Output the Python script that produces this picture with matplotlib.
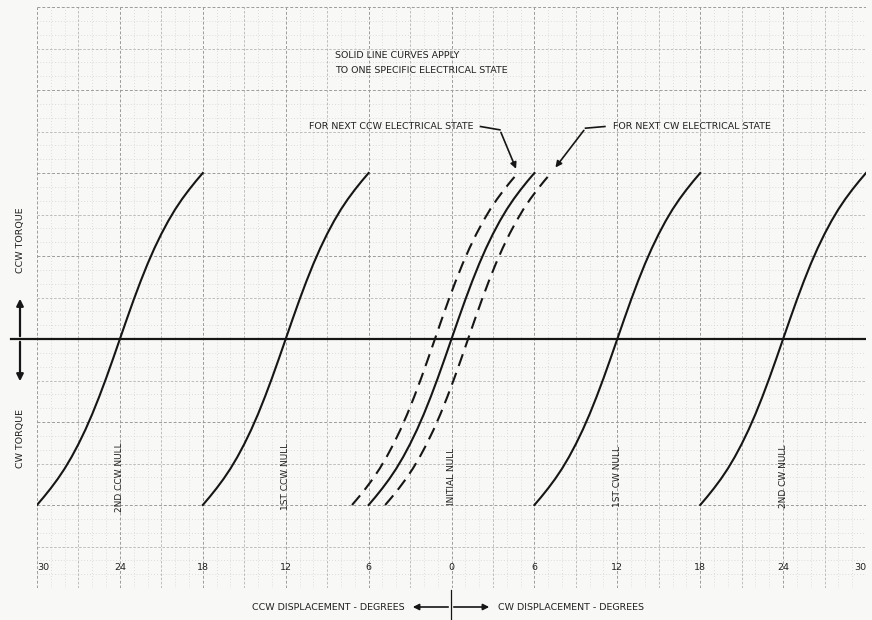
import numpy as np
import matplotlib
matplotlib.use('Agg')
import matplotlib.pyplot as plt

# 零点位置 (度) 和标签
null_pos = [-24, -12, 0, 12, 24]
null_labels = ['2ND CCW NULL', '1ST CCW NULL', 'INITIAL NULL', '1ST CW NULL', '2ND CW NULL']

# 单条曲线的形状 (相对零点的偏移, 力矩)
shape_offset = [-6, -5.5, -5, -4.5, -4, -3.5, -3, -2.5, -2, -1.5, -1, -0.5, 0,
                0.5, 1, 1.5, 2, 2.5, 3, 3.5, 4, 4.5, 5, 5.5, 6]
shape_torque = [-1.0, -0.951, -0.899, -0.843, -0.781, -0.711, -0.633, -0.547, -0.452, -0.348, -0.237, -0.12, 0.0,
                0.12, 0.237, 0.348, 0.452, 0.547, 0.633, 0.711, 0.781, 0.843, 0.899, 0.951, 1.0]

# 相邻电状态的零点 (虚线)
next_ccw_null = -1.2
next_cw_null = 1.2

tick_values = [-30, -24, -18, -12, -6, 0, 6, 12, 18, 24, 30]
tick_labels = ['30', '24', '18', '12', '6', '0', '6', '12', '18', '24', '30']

bg = '#f8f8f6'
ink = '#161616'
txt = '#222222'
fs = 6.8

fig = plt.figure(figsize=(8.72, 6.2), dpi=100, facecolor=bg)
ax = fig.add_axes([37 / 872, 1 - 588 / 620, 829 / 872, 581 / 620])
ax.set_facecolor(bg)
ax.set_xlim(-30, 30)
ax.set_ylim(-1.5, 2.0)
for s in ax.spines.values():
    s.set_visible(False)
ax.set_xticks([])
ax.set_yticks([])

# 坐标纸网格
for x in np.arange(-30, 30.01, 1):
    if x % 6 == 0:
        ax.axvline(x, color='#9c9c9c', lw=0.7, ls=(0, (3, 2)), zorder=1)
    elif x % 3 == 0:
        ax.axvline(x, color='#b4b4b4', lw=0.6, ls=(0, (3, 2)), zorder=1)
    else:
        ax.axvline(x, color='#d4d4d4', lw=0.6, ls=(0, (1, 2.5)), zorder=0)
for k in range(0, 43):
    y = -1.5 + k / 12
    if k % 6 == 0:
        ax.axhline(y, color='#9c9c9c', lw=0.7, ls=(0, (3, 2)), zorder=1)
    elif k % 3 == 0:
        ax.axhline(y, color='#b4b4b4', lw=0.6, ls=(0, (3, 2)), zorder=1)
    else:
        ax.axhline(y, color='#d4d4d4', lw=0.6, ls=(0, (1, 2.5)), zorder=0)

# 零力矩线
ax.axhline(0, color=ink, lw=1.6, zorder=3)

off = np.array(shape_offset)
tq = np.array(shape_torque)

# 实线曲线
for c in null_pos:
    ax.plot(c + off, tq, color=ink, lw=1.5, zorder=4)

# 虚线曲线
for c in [next_ccw_null, next_cw_null]:
    ax.plot(c + off, tq, color=ink, lw=1.5, ls=(0, (6, 3.5)), zorder=4)

# 零点标签
for c, lab in zip(null_pos, null_labels):
    ax.text(c, -0.83, lab, rotation=90, ha='center', va='center', fontsize=6.5, color=txt, zorder=5)

# x 轴刻度文字
for v, lab in zip(tick_values, tick_labels):
    ha = 'center'
    if v == -30:
        ha = 'left'
    elif v == 30:
        ha = 'right'
    ax.text(v, -1.375, lab, ha=ha, va='center', fontsize=fs, color=txt, zorder=5)

# 说明文字
ax.text(-8.4, 1.71, 'SOLID LINE CURVES APPLY', ha='left', va='center', fontsize=fs, color=txt)
ax.text(-8.4, 1.62, 'TO ONE SPECIFIC ELECTRICAL STATE', ha='left', va='center', fontsize=fs, color=txt)

ax.text(1.6, 1.278, 'FOR NEXT CCW ELECTRICAL STATE', ha='right', va='center', fontsize=fs, color=txt)
ax.text(11.7, 1.278, 'FOR NEXT CW ELECTRICAL STATE', ha='left', va='center', fontsize=fs, color=txt)

# 指引线
ccw_tip = (next_ccw_null + shape_offset[-1], shape_torque[-1])
cw_tip = (next_cw_null + shape_offset[-1], shape_torque[-1])
ax.plot([2.1, 3.5], [1.28, 1.26], color=ink, lw=1.2, zorder=5)
ax.annotate('', xy=(ccw_tip[0] - 0.05, ccw_tip[1] + 0.01), xytext=(3.5, 1.26),
            arrowprops=dict(arrowstyle='-|>', color=ink, lw=1.2, mutation_scale=9), zorder=5)
ax.plot([11.1, 9.7], [1.28, 1.27], color=ink, lw=1.2, zorder=5)
ax.annotate('', xy=(cw_tip[0] + 0.2, cw_tip[1] + 0.02), xytext=(9.7, 1.27),
            arrowprops=dict(arrowstyle='-|>', color=ink, lw=1.2, mutation_scale=9), zorder=5)

# 左侧力矩方向
fig.text(20 / 872, 1 - 240 / 620, 'CCW TORQUE', rotation=90, ha='center', va='center', fontsize=fs, color=txt)
fig.text(20 / 872, 1 - 438 / 620, 'CW TORQUE', rotation=90, ha='center', va='center', fontsize=fs, color=txt)
ax.annotate('', xy=(20 / 872, 1 - 296 / 620), xytext=(20 / 872, 1 - 339 / 620), xycoords='figure fraction',
            arrowprops=dict(arrowstyle='-|>', color=ink, lw=1.6, mutation_scale=10))
ax.annotate('', xy=(20 / 872, 1 - 384 / 620), xytext=(20 / 872, 1 - 339 / 620), xycoords='figure fraction',
            arrowprops=dict(arrowstyle='-|>', color=ink, lw=1.6, mutation_scale=10))
fig.add_artist(plt.Line2D([11 / 872, 37 / 872], [1 - 339 / 620, 1 - 339 / 620], color=ink, lw=1.6))

# 底部位移方向
fig.text(405 / 872, 1 - 607 / 620, 'CCW DISPLACEMENT - DEGREES', ha='right', va='center', fontsize=fs, color=txt)
fig.text(498 / 872, 1 - 607 / 620, 'CW DISPLACEMENT - DEGREES', ha='left', va='center', fontsize=fs, color=txt)
ax.annotate('', xy=(410 / 872, 1 - 607 / 620), xytext=(451 / 872, 1 - 607 / 620), xycoords='figure fraction',
            arrowprops=dict(arrowstyle='-|>', color=ink, lw=1.2, mutation_scale=9))
ax.annotate('', xy=(492 / 872, 1 - 607 / 620), xytext=(451 / 872, 1 - 607 / 620), xycoords='figure fraction',
            arrowprops=dict(arrowstyle='-|>', color=ink, lw=1.2, mutation_scale=9))
fig.add_artist(plt.Line2D([451 / 872, 451 / 872], [1 - 590 / 620, 0], color=ink, lw=0.9))

fig.savefig('out.png', dpi=100, facecolor=bg)
